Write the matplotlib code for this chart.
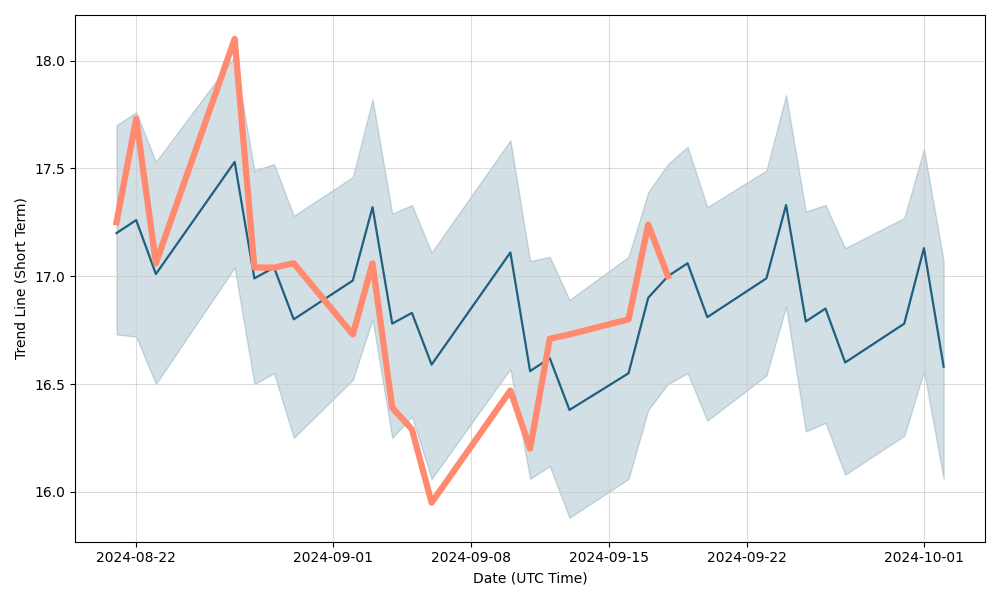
import numpy as np
import pandas as pd
import matplotlib
matplotlib.use("Agg")
import matplotlib.pyplot as plt

# dates of the trend points (gaps on weekends)
dates = pd.to_datetime([
    "2024-08-21", "2024-08-22", "2024-08-23", "2024-08-27", "2024-08-28",
    "2024-08-29", "2024-08-30", "2024-09-02", "2024-09-03", "2024-09-04",
    "2024-09-05", "2024-09-06", "2024-09-10", "2024-09-11", "2024-09-12",
    "2024-09-13", "2024-09-16", "2024-09-17", "2024-09-18", "2024-09-19",
    "2024-09-20", "2024-09-23", "2024-09-24", "2024-09-25", "2024-09-26",
    "2024-09-27", "2024-09-30", "2024-10-01", "2024-10-02",
])

trend = [17.20, 17.26, 17.01, 17.53, 16.99, 17.04, 16.80, 16.98, 17.32, 16.78,
         16.83, 16.59, 17.11, 16.56, 16.62, 16.38, 16.55, 16.90, 17.00, 17.06,
         16.81, 16.99, 17.33, 16.79, 16.85, 16.60, 16.78, 17.13, 16.58]

upper = [17.70, 17.76, 17.53, 18.02, 17.49, 17.52, 17.28, 17.46, 17.82, 17.29,
         17.33, 17.11, 17.63, 17.07, 17.09, 16.89, 17.09, 17.39, 17.52, 17.60,
         17.32, 17.49, 17.84, 17.30, 17.33, 17.13, 17.27, 17.59, 17.07]

lower = [16.73, 16.72, 16.50, 17.04, 16.50, 16.55, 16.25, 16.52, 16.80, 16.25,
         16.35, 16.06, 16.57, 16.06, 16.12, 15.88, 16.06, 16.38, 16.50, 16.55,
         16.33, 16.54, 16.86, 16.28, 16.32, 16.08, 16.26, 16.56, 16.06]

# actual values, only up to 2024-09-18
actual = [17.25, 17.73, 17.06, 18.10, 17.04, 17.04, 17.06, 16.73, 17.06, 16.39,
          16.29, 15.95, 16.47, 16.20, 16.71, 16.73, 16.80, 17.24, 17.00]

blue = "#1f5f7f"
salmon = "#ff8a70"

fig, ax = plt.subplots(figsize=(10, 6), dpi=100)

ax.fill_between(dates, lower, upper, color=blue, alpha=0.2, linewidth=1)
ax.plot(dates, trend, color=blue, linewidth=1.6)
ax.plot(dates[:len(actual)], actual, color=salmon, linewidth=4.5)

ax.grid(True, color="#cccccc", alpha=0.7)
ax.set_xlabel("Date (UTC Time)")
ax.set_ylabel("Trend Line (Short Term)")

plt.tight_layout()
plt.savefig("out.png")
